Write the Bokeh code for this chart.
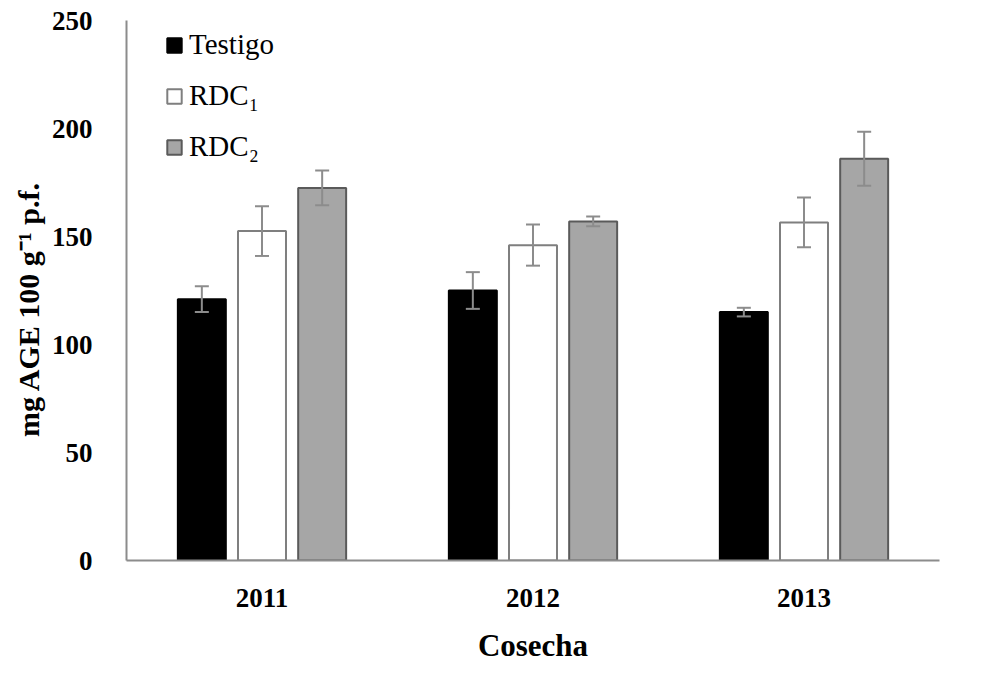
from bokeh.plotting import figure
from bokeh.models import ColumnDataSource, FactorRange, Range1d, Whisker, TeeHead, Legend, LegendItem
from bokeh.transform import dodge
from bokeh.embed import file_html
from bokeh.resources import INLINE

years = ["2011", "2012", "2013"]
testigo = [121, 125, 115]
testigo_err = [6, 8.5, 2]
rdc1 = [152.5, 146, 156.5]
rdc1_err = [11.5, 9.5, 11.5]
rdc2 = [172.5, 157, 186]
rdc2_err = [8, 2.3, 12.5]

data = dict(years=years, testigo=testigo, rdc1=rdc1, rdc2=rdc2)
for name, vals, errs in (("testigo", testigo, testigo_err), ("rdc1", rdc1, rdc1_err), ("rdc2", rdc2, rdc2_err)):
    data[name + "_up"] = [v + e for v, e in zip(vals, errs)]
    data[name + "_lo"] = [v - e for v, e in zip(vals, errs)]
source = ColumnDataSource(data)

SERIF = "Liberation Serif"

p = figure(width=990, height=665, x_range=FactorRange(factors=years), y_range=Range1d(0, 250),
           output_backend="svg", toolbar_location=None,
           min_border_left=126, min_border_right=51, min_border_top=20, min_border_bottom=100)

p.outline_line_color = None
p.xgrid.grid_line_color = None
p.ygrid.grid_line_color = None

offset = 0.222
bw = 0.177
series = [
    ("testigo", -offset, "#000000", "#000000", "Testigo"),
    ("rdc1", 0.0, "#ffffff", "#7f7f7f", "RDC\u2081"),
    ("rdc2", offset, "#a6a6a6", "#5a5a5a", "RDC\u2082"),
]
items = []
for key, off, fill, line, label in series:
    r = p.vbar(x=dodge("years", off, range=p.x_range), top=key, width=bw, source=source,
               fill_color=fill, line_color=line, line_width=2)
    items.append(LegendItem(label=label, renderers=[r]))
    w = Whisker(base=dodge("years", off, range=p.x_range), upper=key + "_up", lower=key + "_lo",
                source=source, line_color="#8c8c8c", line_width=2, level="overlay",
                upper_head=TeeHead(size=14, line_color="#8c8c8c", line_width=2),
                lower_head=TeeHead(size=14, line_color="#8c8c8c", line_width=2))
    p.add_layout(w)

legend = Legend(items=items, location=(39, 397), margin=0, padding=0,
                label_text_font=SERIF, label_text_font_size="29px", label_text_color="#000000",
                glyph_width=18, glyph_height=18, spacing=18, label_standoff=6,
                border_line_color=None, background_fill_alpha=0)
p.add_layout(legend)

p.yaxis.ticker = [0, 50, 100, 150, 200, 250]
for ax in (p.xaxis[0], p.yaxis[0]):
    ax.major_tick_line_color = None
    ax.minor_tick_line_color = None
    ax.axis_line_color = "#8c8c8c"
    ax.axis_line_width = 2
    ax.major_label_text_font = SERIF
    ax.major_label_text_font_style = "bold"
    ax.major_label_text_font_size = "27px"
    ax.major_label_text_color = "#000000"
    ax.axis_label_text_font = SERIF
    ax.axis_label_text_font_style = "bold"
    ax.axis_label_text_color = "#000000"

p.yaxis.axis_label = "mg AGE 100 g\u207b\u00b9 p.f." + "\u00a0" * 5
p.yaxis.axis_label_text_font_size = "30px"
p.yaxis.major_label_standoff = 28
p.yaxis.axis_label_standoff = 4

p.xaxis.axis_label = "Cosecha"
p.xaxis.axis_label_text_font_size = "31px"
p.xaxis.major_label_standoff = 22
p.xaxis.axis_label_standoff = 18
p.xaxis.group_text_font_size = "27px"

open("out.html", "w").write(file_html(p, INLINE))
